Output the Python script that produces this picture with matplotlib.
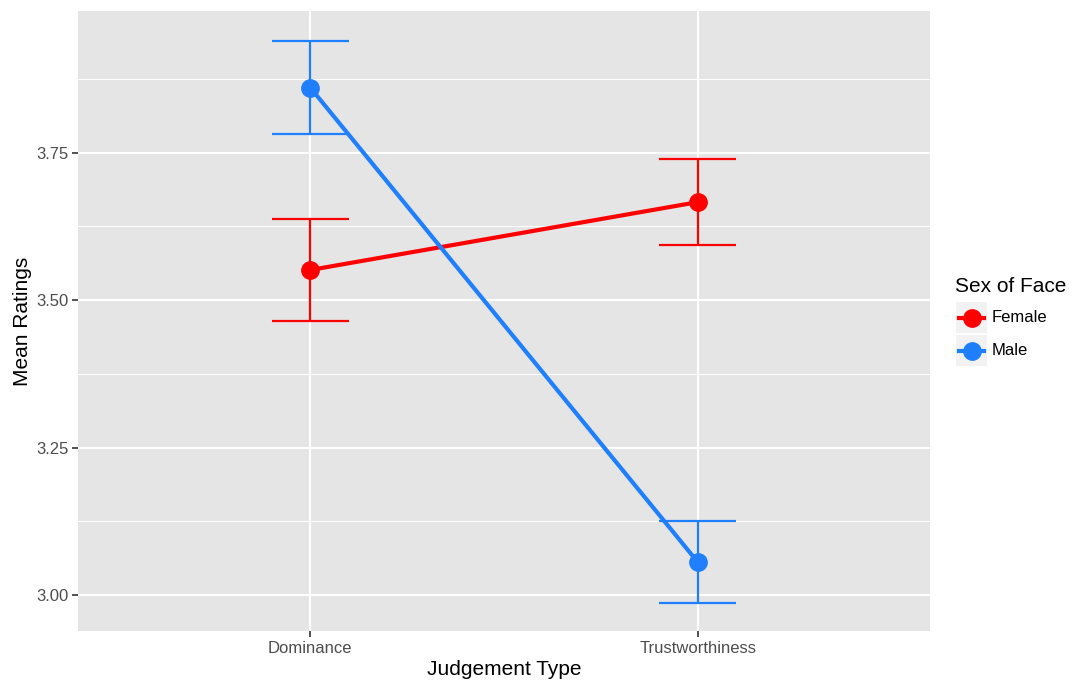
import matplotlib.pyplot as plt
from matplotlib.lines import Line2D
from matplotlib.patches import Rectangle
from matplotlib.ticker import MultipleLocator

judgement_types = ["Dominance", "Trustworthiness"]
sexes = ["Female", "Male"]
mean_female = [3.551, 3.666]
lower_female = [3.465, 3.593]
upper_female = [3.637, 3.739]
mean_male = [3.860, 3.056]
lower_male = [3.782, 2.987]
upper_male = [3.939, 3.126]

colors = {"Female": "#FF0000", "Male": "#1F7FFF"}

plt.rcParams["font.family"] = ["Liberation Sans", "DejaVu Sans"]

fig = plt.figure(figsize=(10.69, 6.82), dpi=100)
ax = fig.add_axes([78 / 1069, 51 / 682, 852 / 1069, 620 / 682])
ax.set_facecolor("#E5E5E5")

x = list(range(1, len(judgement_types) + 1))
series = {
    "Female": (mean_female, lower_female, upper_female),
    "Male": (mean_male, lower_male, upper_male),
}
for sex in sexes:
    mean, lo, hi = series[sex]
    c = colors[sex]
    ax.vlines(x, lo, hi, color=c, lw=1.6, zorder=3)
    ax.hlines(lo, [i - 0.1 for i in x], [i + 0.1 for i in x], color=c, lw=1.6, zorder=3)
    ax.hlines(hi, [i - 0.1 for i in x], [i + 0.1 for i in x], color=c, lw=1.6, zorder=3)
    ax.plot(x, mean, color=c, lw=3, zorder=4)
    ax.plot(x, mean, "o", color=c, ms=12.5, zorder=5)

ax.set_xlim(0.4, 2.6)
ax.set_ylim(2.939, 3.990)
ax.set_xticks(x)
ax.set_xticklabels(judgement_types)
ax.yaxis.set_major_locator(MultipleLocator(0.25))
ax.yaxis.set_minor_locator(MultipleLocator(0.125))
ax.yaxis.set_major_formatter(lambda v, p: f"{v:.2f}")
ax.grid(which="major", color="white", lw=1.5)
ax.grid(which="minor", axis="y", color="white", lw=0.8)
ax.set_axisbelow(True)
for s in ax.spines.values():
    s.set_visible(False)
ax.tick_params(which="major", length=4, width=1.2, color="#333333", labelcolor="#4D4D4D", labelsize=12, pad=3)
ax.tick_params(which="minor", length=0)

ax.set_xlabel("Judgement Type", fontsize=15, labelpad=3)
ax.set_ylabel("Mean Ratings", fontsize=15, labelpad=3)

# legend drawn by hand, ggplot style
W, H = 1069, 682
fig.text(955 / W, 1 - 286 / H, "Sex of Face", fontsize=15, va="center", ha="left")
for k, sex in enumerate(sexes):
    y0 = 302 + 33 * k
    fig.patches.append(Rectangle((956 / W, 1 - (y0 + 31) / H), 31 / W, 31 / H,
                                 transform=fig.transFigure, facecolor="#F2F2F2", edgecolor="none"))
    yc = 1 - (y0 + 15.5) / H
    fig.lines.append(Line2D([959 / W, 984 / W], [yc, yc], transform=fig.transFigure,
                            color=colors[sex], lw=3))
    fig.lines.append(Line2D([971.5 / W], [yc], transform=fig.transFigure, marker="o",
                            color=colors[sex], ms=12.5))
    fig.text(992 / W, yc, sex, fontsize=12, va="center", ha="left")

fig.savefig("out.png", dpi=100)
